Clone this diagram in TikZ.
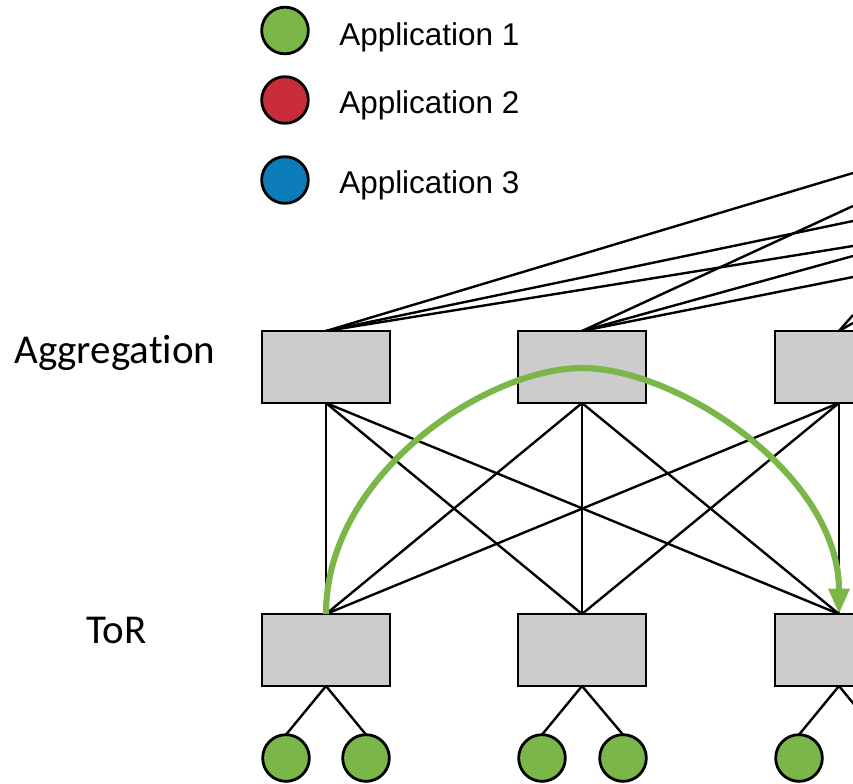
\documentclass[tikz,border=0pt]{standalone}
\usepackage{fontspec}
\setmainfont{Liberation Sans}
\newfontfamily\calibri[Ligatures=NoCommon]{Carlito}
\usetikzlibrary{arrows.meta,calc}
\definecolor{appgreen}{HTML}{7AB648}
\definecolor{appred}{HTML}{C92D39}
\definecolor{appblue}{HTML}{0C7CBA}
\definecolor{switchgray}{HTML}{CCCCCC}
\begin{document}
\begin{tikzpicture}[x=0.75pt,y=-0.75pt,
  switchframe/.style={rectangle,minimum width=96pt,minimum height=54pt,inner sep=0pt,outer sep=0pt},
  switchbox/.style={draw=black,fill=switchgray,line width=2.1pt},
  host/.style={circle,draw=black,line width=2.1pt,minimum size=35pt,inner sep=0pt,outer sep=0pt},
  link/.style={draw=black,line width=1.8pt},
  legendtext/.style={anchor=base west,inner sep=0pt,font=\fontsize{23.6}{28}\selectfont},
  layer/.style={anchor=base west,inner sep=0pt,font=\calibri\fontsize{30.75}{36}\selectfont},
  flow/.style={draw=appgreen,line width=4.6pt,-{Triangle[length=19pt,width=15pt]}}]
\useasboundingbox (0,0) rectangle (853,783);
\clip (0,0) rectangle (853,783);

% switch positions (frames only; the boxes are painted over the links)
\foreach \n/\x/\y in {a1/326/367,a2/582/367,a3/839/367,t1/326/650,t2/582/650,t3/839/650}
  \node[switchframe] (\n) at (\x,\y) {};

% hosts under the ToR switches
\node[host,fill=appgreen] (h1) at (286,758) {};
\node[host,fill=appgreen] (h2) at (366,758) {};
\node[host,fill=appgreen] (h3) at (542,758) {};
\node[host,fill=appgreen] (h4) at (623,758) {};
\node[host,fill=appgreen] (h5) at (799,758) {};
\node[host,fill=appgreen] (h6) at (879,758) {};

% uplinks towards the core layer
\coordinate (u1) at (853,173);
\coordinate (u2) at (853,221);
\coordinate (u3) at (853,246);
\coordinate (u4) at (853,206);
\coordinate (u5) at (853,256);
\coordinate (u6) at (853,277);
\coordinate (u7) at (853,315);
\coordinate (u8) at (853,323);
\foreach \u in {u1,u2,u3} \draw[link] (a1.north) -- (\u);
\foreach \u in {u4,u5,u6} \draw[link] (a2.north) -- (\u);
\foreach \u in {u7,u8} \draw[link] (a3.north) -- (\u);

% full mesh between aggregation and ToR
\foreach \a in {a1,a2,a3}
  \foreach \t in {t1,t2,t3}
    \draw[link] (\a.south) -- (\t.north);

% ToR to hosts
\draw[link] (t1.south) -- (h1.north);
\draw[link] (t1.south) -- (h2.north);
\draw[link] (t2.south) -- (h3.north);
\draw[link] (t2.south) -- (h4.north);
\draw[link] (t3.south) -- (h5.north);
\draw[link] (t3.south) -- (h6.north);

% switch boxes
\foreach \n in {a1,a2,a3,t1,t2,t3}
  \draw[switchbox] (\n.south west) rectangle (\n.north east);

% traffic of application 1
\coordinate (apex) at (582,368);
\draw[flow] (t1.north) .. controls ($(t1.north)+(0,-140)$) and ($(apex)+(-95,0)$) .. (apex)
  .. controls ($(apex)+(95,0)$) and ($(t3.north)+(0,-140)$) .. (t3.north);

% legend
\node[host,fill=appgreen] (k1) at (285,30.5) {};
\node[host,fill=appred]   (k2) at (285,100) {};
\node[host,fill=appblue]  (k3) at (285,180) {};
\node[legendtext] (k1text) at (339,45) {Application 1};
\node[legendtext] (k2text) at (339,113.3) {Application 2};
\node[legendtext] (k3text) at (339,193.3) {Application 3};

% layer labels
\node[layer] (agglabel) at (14,363) {Aggregation};
\node[layer] (torlabel) at (86,643) {ToR};
\end{tikzpicture}
\end{document}
